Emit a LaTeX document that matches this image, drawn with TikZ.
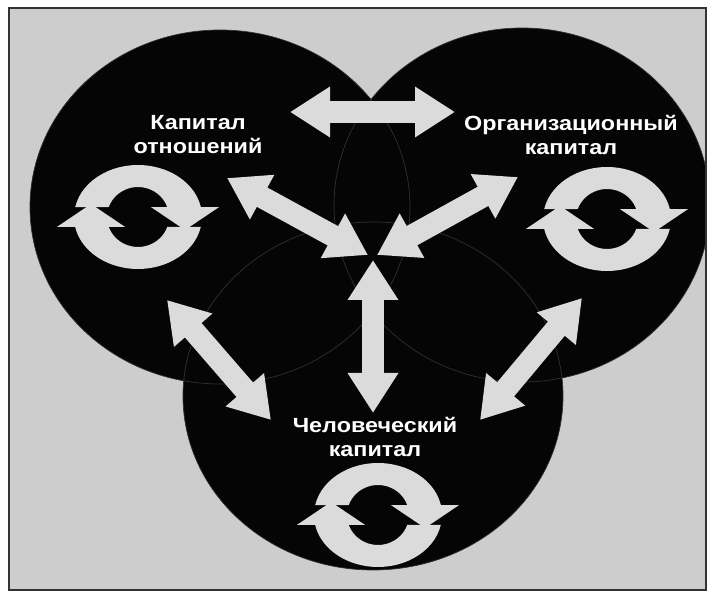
\documentclass[tikz,border=0pt]{standalone}
\usepackage{fontspec}
\setmainfont{Liberation Sans}
\newfontfamily\lblfont[FakeStretch=1.14]{Liberation Sans}
\usetikzlibrary{arrows.meta}
\definecolor{bg}{RGB}{205,205,205}
\definecolor{lite}{RGB}{219,219,219}
\definecolor{ink}{RGB}{5,5,5}
\definecolor{faint}{RGB}{48,48,48}
\newcommand\cycicon[1]{%
  \begin{scope}[shift={#1}]
    \fill[lite] (-62.8,9.9) arc[start angle=169, end angle=11, x radius=64pt, y radius=52pt]
      -- (81,9.9) -- (47,-13) -- (13,9.9) -- (29.2,10)
      arc[start angle=19.5, end angle=160.5, x radius=31pt, y radius=30pt] -- cycle;
    \fill[lite] (62.8,-9.9) arc[start angle=-11, end angle=-169, x radius=64pt, y radius=52pt]
      -- (-81,-9.9) -- (-47,13) -- (-13,-9.9) -- (-29.2,-10)
      arc[start angle=199.5, end angle=340.5, x radius=31pt, y radius=30pt] -- cycle;
  \end{scope}}
\begin{document}
\begin{tikzpicture}[x=1pt,y=1pt,
  blob/.style={fill=ink},
  rim/.style={draw=faint,line width=0.7pt},
  dbl/.style={draw=lite,line width=22pt,{Triangle[length=40pt,width=48pt]}-{Triangle[length=40pt,width=48pt]}},
  lbl/.style={text=white,font=\lblfont\fontsize{20.5}{24}\selectfont\bfseries,align=center}]
\useasboundingbox (0,0) rectangle (710,592);
\fill[white] (0,0) rectangle (710,592);
\fill[bg] (9,2) rectangle (706,584);
\begin{scope}
  \clip (9,2) rectangle (706,584);
  \fill[blob] (220,385) ellipse[x radius=190pt, y radius=177pt];
  \fill[blob] (522,387) ellipse[x radius=188pt, y radius=177pt];
  \fill[blob] (373,196) ellipse[x radius=190pt, y radius=174pt];
  \draw[rim] (220,385) ellipse[x radius=190pt, y radius=177pt];
  \draw[rim] (522,387) ellipse[x radius=188pt, y radius=177pt];
  \draw[rim] (373,196) ellipse[x radius=190pt, y radius=174pt];
\end{scope}
% arrow endpoints
\coordinate (t1) at (290,480); \coordinate (t2) at (455,480);
\coordinate (l1) at (227,414); \coordinate (l2) at (368,337);
\coordinate (r1) at (518,415); \coordinate (r2) at (377,337);
\coordinate (v1) at (373,332); \coordinate (v2) at (373,179);
\coordinate (a1) at (167,292); \coordinate (a2) at (271,172);
\coordinate (b1) at (582,294); \coordinate (b2) at (480,172);
\draw[dbl] (t1) -- (t2);
\draw[dbl] (l1) -- (l2);
\draw[dbl] (r1) -- (r2);
\draw[dbl] (v1) -- (v2);
\draw[dbl] (a1) -- (a2);
\draw[dbl] (b1) -- (b2);
\cycicon{(138,375)}
\cycicon{(607,373)}
\cycicon{(378,77)}
\node[lbl] (rel) at (198,457) {Капитал\\отношений};
\node[lbl] (org) at (571,457) {Организационный\\капитал};
\node[lbl] (hum) at (375,155) {Человеческий\\капитал};
\draw[line width=2pt, draw=black!80] (9,2) rectangle (706,584);
\end{tikzpicture}
\end{document}
